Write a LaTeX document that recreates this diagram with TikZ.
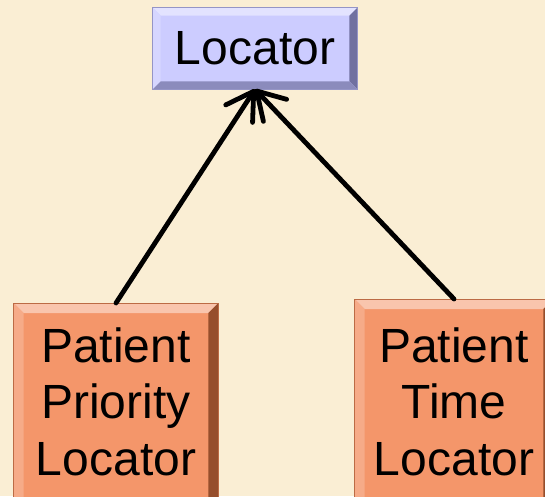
\documentclass[tikz,border=0pt]{standalone}
\usepackage{fontspec}
\setmainfont{Liberation Sans}
\usetikzlibrary{arrows.meta,calc}
\definecolor{pagebg}{RGB}{250,238,212}
\definecolor{lavbg}{RGB}{204,204,255}
\definecolor{lavdark}{RGB}{112,112,160}
\definecolor{orgbg}{RGB}{244,150,106}
\definecolor{orgdark}{RGB}{150,78,44}
\newcommand{\bevel}[4]{%
  \fill[#2!55!white] (#1.north west) -- (#1.north east) -- ($(#1.north east)+(-#4,-#4)$) -- ($(#1.north west)+(#4,-#4)$) -- cycle;
  \fill[#2!80!white] (#1.north west) -- ($(#1.north west)+(#4,-#4)$) -- ($(#1.south west)+(#4,#4)$) -- (#1.south west) -- cycle;
  \fill[#3] (#1.north east) -- ($(#1.north east)+(-#4,-#4)$) -- ($(#1.south east)+(-#4,#4)$) -- (#1.south east) -- cycle;
  \fill[#3!70!#2] (#1.south west) -- ($(#1.south west)+(#4,#4)$) -- ($(#1.south east)+(-#4,#4)$) -- (#1.south east) -- cycle;
  \draw[#3!60!#2,line width=0.6pt] (#1.north west) rectangle (#1.south east);
}

\begin{document}
\begin{tikzpicture}[x=0.75pt,y=-0.75pt,font=\fontsize{36}{42.5}\selectfont]
  \tikzset{
    classbox/.style={fill=#1,inner sep=0pt,align=center},
    isa/.style={line width=3.6pt,line cap=round,-{Straight Barb[length=20pt,width=24pt,round]}}
  }
  \clip (0,0) rectangle (545,496);
  \fill[pagebg] (0,0) rectangle (545,496);
  \node[classbox=lavbg,minimum width=153pt,minimum height=60.75pt] (locator) at (255,48.5) {Locator};
  \node[classbox=orgbg,anchor=north,minimum width=153pt,inner ysep=18pt,text depth=16pt] (priority) at (116,303) {Patient\\Priority\\Locator};
  \node[classbox=orgbg,anchor=north,minimum width=148.5pt,inner ysep=21pt,text depth=16pt] (timeloc) at (454,299) {Patient\\Time\\Locator};
  \bevel{locator}{lavbg}{lavdark}{6pt}
  \bevel{priority}{orgbg}{orgdark}{7.5pt}
  \bevel{timeloc}{orgbg}{orgdark}{7.5pt}
  \draw[isa] (priority.north) -- (locator.south);
  \draw[isa] (timeloc.north) -- (locator.south);
\end{tikzpicture}
\end{document}
